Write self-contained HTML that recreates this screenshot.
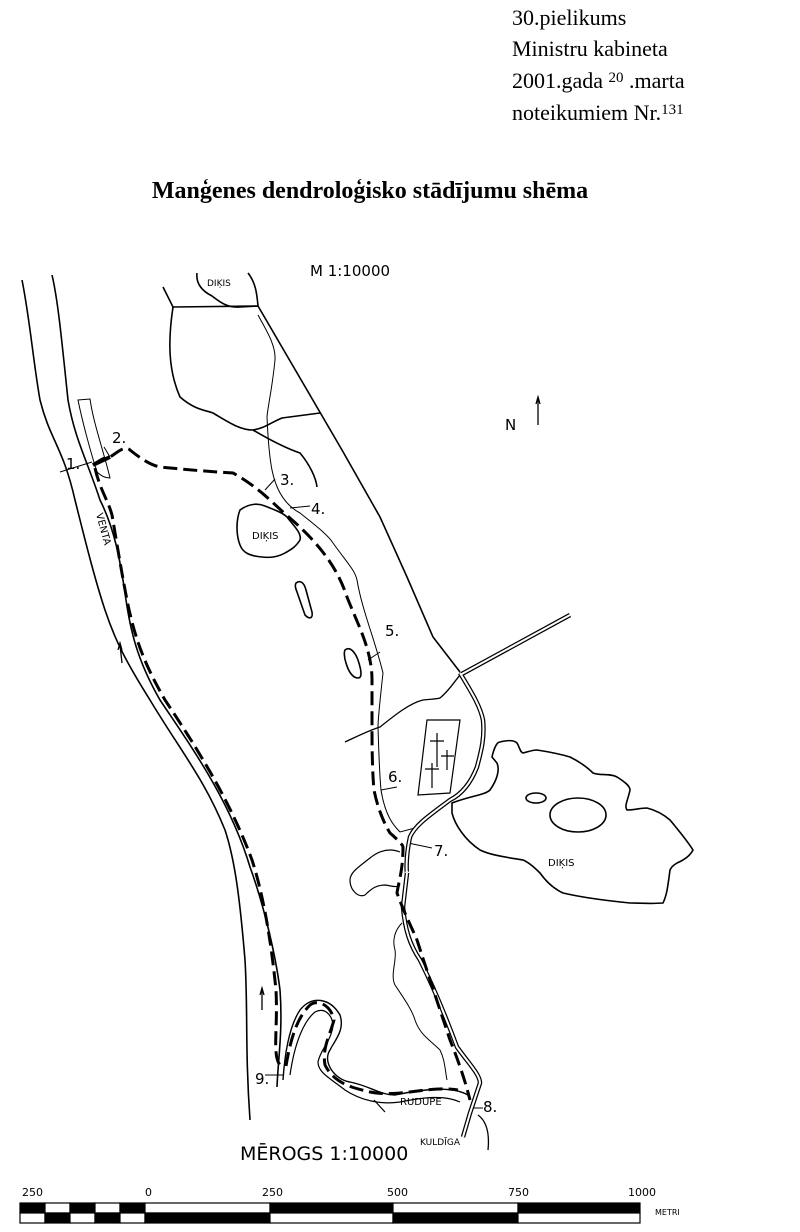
<!DOCTYPE html>
<html><head><meta charset="utf-8"><style>
html,body{margin:0;padding:0;background:#fff;}
svg{display:block}
.s{font-family:"Liberation Serif",serif;fill:#000}
.a{font-family:"DejaVu Sans","Liberation Sans",sans-serif;fill:#000}
</style></head><body>
<svg width="800" height="1232" viewBox="0 0 800 1232" xmlns="http://www.w3.org/2000/svg">
<g class="s" font-size="22">
<text x="512" y="25">30.pielikums</text>
<text x="512" y="56">Ministru kabineta</text>
<text x="512" y="88">2001.gada <tspan font-size="15" dy="-6">20</tspan><tspan dy="6"> .marta</tspan></text>
<text x="512" y="120">noteikumiem Nr.<tspan font-size="15" dy="-6">131</tspan></text>
<text x="370" y="198" font-size="24" font-weight="bold" text-anchor="middle">Manģenes dendroloģisko stādījumu shēma</text>
</g>
<g fill="none" stroke="#000" stroke-width="1.6">
<path d="M22,280 C30,320 33,360 40,400 C50,440 63,447 75,500 C85,540 95,580 105,610 C115,640 125,660 150,700 C180,750 205,780 225,830 C235,860 240,900 245,960 C248,1010 245,1050 250,1120"/>
<path d="M52,275 C58,300 62,343 68,400 C75,440 87,460 100,500 C115,530 120,560 125,593 C130,630 137,660 160,700 C190,745 230,800 250,867 C262,900 275,950 280,990 C283,1030 278,1060 277,1087"/>
<path d="M78,400 L90,399 C93,420 100,440 108,470 L110,478 C104,478 100,475 97,472 C90,450 82,420 78,400Z" stroke-width="1"/>
<path d="M197,273 C196,282 200,290 212,296 C220,302 227,308 240,307 L258,306 C257,295 256,283 248,273"/>
<path d="M258,306 L342,450 L380,517 L407,577 L433,637 L460,672"/>
<path d="M163,287 L173,307 L258,306"/>
<path d="M173,307 C168,340 168,370 180,397 C195,410 205,410 213,413 C230,423 240,430 253,430 C265,428 270,423 282,418 L320,413"/>
<path d="M253,430 C270,440 285,448 300,453 C310,465 316,478 317,487"/>
<path d="M258,315 C266,330 276,345 275,360 C272,390 268,405 267,417 C268,440 270,460 272,470 C276,490 285,505 300,513 C315,525 328,535 333,543 C345,560 355,570 357,580 C362,610 375,640 383,673 C380,700 378,720 378,727 C379,760 380,780 381,790 C385,815 393,825 400,832 L415,828" stroke-width="1"/>
<path d="M240,510 C247,505 255,502 265,506 C275,510 283,513 287,517 C293,525 302,533 300,540 C295,548 290,550 285,553 C278,557 270,558 262,557 C250,556 243,553 240,545 C236,535 236,520 240,510Z"/>
<path d="M296,583 C300,580 304,582 306,590 L312,612 C313,618 310,620 305,615 L297,592 C295,587 295,585 296,583Z"/>
<path d="M345,650 C350,646 355,652 358,660 C362,672 362,678 358,678 C352,678 348,670 346,663 C344,657 344,652 345,650Z"/>
<path d="M345,742 C360,735 370,730 380,727 C395,715 410,703 423,700 C432,699 437,699 440,698 C450,690 455,680 462,673" stroke-width="1.3"/>
<path d="M427,720 L460,720 L450,793 L418,795Z" stroke-width="1.2"/>
<path d="M437,733 V767 M430,741 H444 M447,750 V770 M441,756 H454 M432,763 V788 M425,769 H439" stroke-width="1.2"/>
<path d="M452,803 C470,796 485,795 490,790 C497,780 500,770 497,763 L492,757 C494,748 497,742 500,742 C508,740 514,740 517,743 C520,748 520,752 523,753 C528,752 532,750 537,750 C550,752 560,754 570,757 C580,762 588,768 593,773 C600,776 610,773 617,777 C625,782 630,786 630,790 C628,800 624,806 627,810 C635,810 640,808 647,808 C655,810 663,814 670,820 C680,832 688,842 693,850 C690,856 684,860 677,863 C672,866 671,868 670,870 C668,885 667,895 663,903 C650,904 640,903 630,903 C600,900 580,897 563,893 C552,888 545,880 540,873 C533,866 528,862 523,860 C505,857 490,855 480,850 C465,840 455,825 452,813Z"/>
<ellipse cx="578" cy="815" rx="28" ry="17"/>
<ellipse cx="536" cy="798" rx="10" ry="5"/>
<path d="M400,852 C390,848 380,850 370,858 C360,866 350,872 350,880 C350,890 358,898 365,895 C372,888 377,885 385,885 C392,886 397,888 400,885" stroke-width="1.2"/>
<path d="M402,923 C395,930 392,940 395,950 C397,960 390,975 395,985 C405,1000 412,1010 415,1020 C420,1035 430,1040 440,1050 C445,1060 445,1070 447,1080" stroke-width="1"/>
<path d="M283,1080 C285,1050 290,1025 300,1010 C312,995 330,998 340,1015 C345,1030 335,1040 330,1050 C322,1062 335,1080 350,1082 C370,1086 380,1095 395,1095 C420,1090 450,1085 468,1095" stroke-width="1.4"/>
<path d="M290,1075 C295,1040 305,1020 315,1012 C325,1007 332,1015 333,1025 C332,1040 320,1050 318,1062 C318,1072 328,1077 345,1090 C360,1100 380,1105 400,1102 C425,1097 445,1095 460,1102" stroke-width="1.2"/>
<path d="M374,1100 L385,1112" stroke-width="1.2"/>
<path d="M478,1115 C485,1120 490,1130 488,1150" stroke-width="1.3"/>
<path d="M60,472 L92,462 M104,447 L110,457 M265,490 L275,479 M290,508 L310,506 M368,660 L380,652 M381,790 L397,787 M408,843 L432,848 M470,1108 L483,1108 M265,1075 L283,1075" stroke-width="1"/>
</g>
<g fill="none" stroke="#000" stroke-width="4.5"><path d="M460,675 L570,615"/><path d="M460,673 C470,690 480,705 483,720 C485,740 480,755 477,767 C470,785 460,795 450,800 C430,815 415,825 410,837 C405,860 407,875 407,873 L403,907 C405,930 410,945 420,960 C435,990 447,1020 457,1047 C470,1065 480,1075 480,1083 L470,1113 L463,1137"/></g>
<g fill="none" stroke="#fff" stroke-width="2"><path d="M460,675 L570,615"/><path d="M460,673 C470,690 480,705 483,720 C485,740 480,755 477,767 C470,785 460,795 450,800 C430,815 415,825 410,837 C405,860 407,875 407,873 L403,907 C405,930 410,945 420,960 C435,990 447,1020 457,1047 C470,1065 480,1075 480,1083 L470,1113 L463,1137"/></g>
<g fill="none" stroke="#000" stroke-width="3" stroke-dasharray="14,6">
<path d="M93,465 C100,460 105,457 110,457 C118,452 125,445 130,450 C140,458 150,465 160,467 C190,470 215,472 233,473 C255,485 270,500 283,512 C310,535 335,560 347,597 C358,625 372,650 372,680 L372,733 C372,760 373,780 374,790 C378,810 385,825 390,833 C398,840 403,845 403,847 C403,870 399,880 397,893 C405,915 412,928 417,940 C430,980 440,1010 450,1040 C458,1060 465,1080 470,1100"/>
<path d="M95,468 C100,490 108,500 112,515 C118,550 122,575 127,600 C135,640 145,665 165,700 C195,745 230,800 252,860 C265,900 272,950 276,990 C278,1030 272,1055 280,1065"/>
<path d="M286,1066 C292,1030 300,1015 310,1005 C320,998 332,1008 334,1020 C330,1035 322,1048 325,1065 C335,1085 355,1088 370,1092 C400,1098 430,1085 458,1090"/>
</g>
<path d="M93,465 L110,457" stroke="#000" stroke-width="4"/>
<g stroke="#000" stroke-width="1.3" fill="none"><path d="M122,663 L120,645 M118,650 L120,643 L122,650"/><path d="M262,1010 L262,988 M260,995 L262,988 L264,995"/><path d="M538,425 L538,398 M536,404 L538,397 L540,404"/></g>
<g class="a">
<text x="310" y="276" font-size="15">M 1:10000</text>
<text x="207" y="286" font-size="9">DIĶIS</text>
<text x="252" y="539" font-size="10">DIĶIS</text>
<text x="548" y="866" font-size="10">DIĶIS</text>
<text x="400" y="1105" font-size="10">RUDUPE</text>
<text x="420" y="1145" font-size="9">KULDĪGA</text>
<text x="505" y="430" font-size="15">N</text>
<text x="96" y="514" font-size="10" transform="rotate(75 96 514)">VENTA</text>
<g font-size="15"><text x="66" y="469">1.</text><text x="112" y="443">2.</text><text x="280" y="485">3.</text><text x="311" y="514">4.</text><text x="385" y="636">5.</text><text x="388" y="782">6.</text><text x="434" y="856">7.</text><text x="483" y="1112">8.</text><text x="255" y="1084">9.</text></g>
<text x="240" y="1160" font-size="19">MĒROGS 1:10000</text>
<g font-size="11"><text x="22" y="1196">250</text><text x="145" y="1196">0</text><text x="262" y="1196">250</text><text x="387" y="1196">500</text><text x="508" y="1196">750</text><text x="628" y="1196">1000</text><text x="655" y="1215" font-size="8">METRI</text></g>
</g>
<g stroke="#000" stroke-width="1.2">
<rect x="20" y="1203" width="25" height="10" fill="#000"/><rect x="20" y="1213" width="25" height="10" fill="#fff"/>
<rect x="45" y="1203" width="25" height="10" fill="#fff"/><rect x="45" y="1213" width="25" height="10" fill="#000"/>
<rect x="70" y="1203" width="25" height="10" fill="#000"/><rect x="70" y="1213" width="25" height="10" fill="#fff"/>
<rect x="95" y="1203" width="25" height="10" fill="#fff"/><rect x="95" y="1213" width="25" height="10" fill="#000"/>
<rect x="120" y="1203" width="25" height="10" fill="#000"/><rect x="120" y="1213" width="25" height="10" fill="#fff"/>
<rect x="145" y="1203" width="125" height="10" fill="#fff"/><rect x="145" y="1213" width="125" height="10" fill="#000"/>
<rect x="270" y="1203" width="123" height="10" fill="#000"/><rect x="270" y="1213" width="123" height="10" fill="#fff"/>
<rect x="393" y="1203" width="125" height="10" fill="#fff"/><rect x="393" y="1213" width="125" height="10" fill="#000"/>
<rect x="518" y="1203" width="122" height="10" fill="#000"/><rect x="518" y="1213" width="122" height="10" fill="#fff"/>
</g>
</svg>
</body></html>
